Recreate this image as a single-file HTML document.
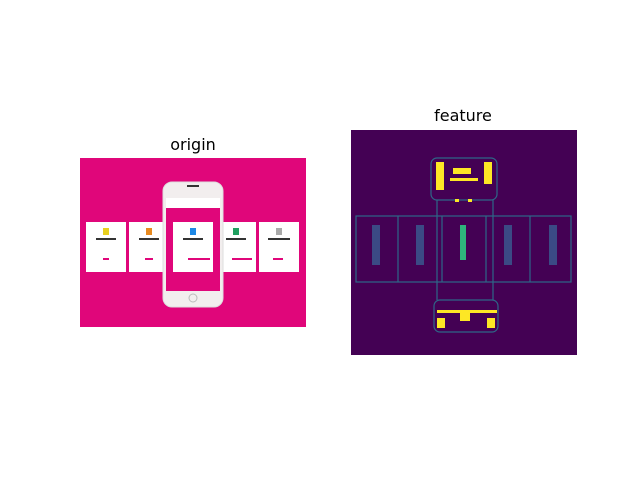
<!DOCTYPE html>
<html><head><meta charset="utf-8"><style>
body{margin:0;background:#fff;}
svg{display:block;font-family:"DejaVu Sans","Liberation Sans",sans-serif;}
</style></head><body>
<svg width="640" height="480">
<text x="193" y="150" font-size="16" text-anchor="middle" fill="#000">origin</text>
<text x="463" y="121" font-size="16" text-anchor="middle" fill="#000">feature</text>
<g>
<rect x="80" y="158" width="226" height="169" fill="#e0067a"/>
<g fill="#fff">
<rect x="86" y="222" width="40" height="50"/>
<rect x="129" y="222" width="40" height="50"/>
<rect x="216" y="222" width="40" height="50"/>
<rect x="259" y="222" width="40" height="50"/>
</g>
<rect x="163" y="182" width="60" height="125" rx="9" fill="#f2eeee" stroke="#ddd"/>
<rect x="166" y="198" width="54" height="93" fill="#e0067a"/>
<rect x="166" y="198" width="54" height="10" fill="#fff"/>
<rect x="173" y="222" width="40" height="50" fill="#fff"/>
<g fill="#e8d020"><rect x="103" y="228" width="6" height="7"/></g>
<rect x="146" y="228" width="6" height="7" fill="#e88a20"/>
<rect x="190" y="228" width="6" height="7" fill="#1e88e5"/>
<rect x="233" y="228" width="6" height="7" fill="#20a060"/>
<rect x="276" y="228" width="6" height="7" fill="#aaa"/>
<g fill="#333"><rect x="96" y="238" width="20" height="2"/><rect x="139" y="238" width="20" height="2"/><rect x="183" y="238" width="20" height="2"/><rect x="226" y="238" width="20" height="2"/><rect x="268" y="238" width="22" height="2"/></g>
<g fill="#e0067a"><rect x="103" y="258" width="6" height="2"/><rect x="145" y="258" width="8" height="2"/><rect x="188" y="258" width="22" height="2"/><rect x="232" y="258" width="20" height="2"/><rect x="273" y="258" width="10" height="2"/></g>
<circle cx="193" cy="298" r="4" fill="none" stroke="#bbb"/>
<rect x="187" y="185" width="12" height="2" fill="#333"/>
</g>
<g>
<rect x="351" y="130" width="226" height="225" fill="#440154"/>
<g fill="none" stroke="#2c728e" stroke-width="1.2" opacity="0.9">
<rect x="431" y="158" width="66" height="42" rx="6"/>
<rect x="356" y="216" width="215" height="66"/>
<line x1="398" y1="216" x2="398" y2="282"/><line x1="442" y1="216" x2="442" y2="282"/><line x1="486" y1="216" x2="486" y2="282"/><line x1="530" y1="216" x2="530" y2="282"/>
<rect x="434" y="300" width="64" height="32" rx="6"/>
<line x1="437" y1="200" x2="437" y2="300"/><line x1="493" y1="200" x2="493" y2="300"/>
</g>
<g fill="#3b528b" opacity="0.9">
<rect x="372" y="225" width="8" height="40"/><rect x="416" y="225" width="8" height="40"/><rect x="504" y="225" width="8" height="40"/><rect x="549" y="225" width="8" height="40"/>
</g>
<g fill="#2fb47c"><rect x="460" y="225" width="6" height="35"/></g>
<g fill="#fde725">
<rect x="436" y="162" width="8" height="28"/><rect x="484" y="162" width="8" height="22"/>
<rect x="453" y="168" width="18" height="6"/><rect x="450" y="178" width="28" height="3"/>
<rect x="437" y="310" width="60" height="3"/><rect x="460" y="313" width="10" height="8"/>
<rect x="437" y="318" width="8" height="10"/><rect x="487" y="318" width="8" height="10"/>
<rect x="455" y="199" width="4" height="3"/><rect x="468" y="199" width="4" height="3"/>
</g>
</g>
</svg>
</body></html>
